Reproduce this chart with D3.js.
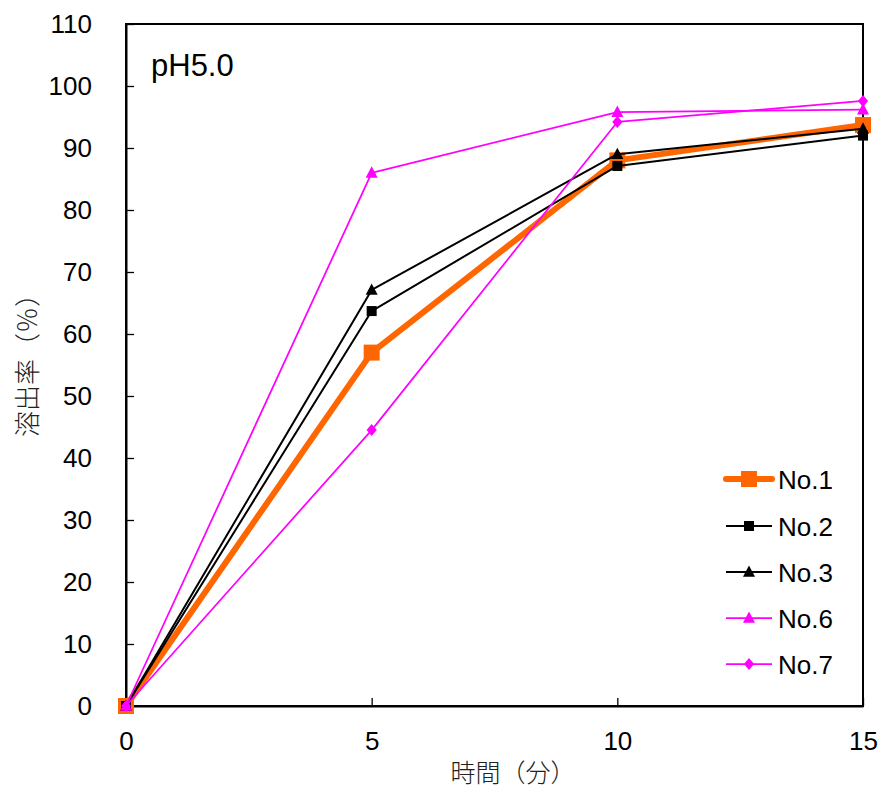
<!DOCTYPE html>
<html><head><meta charset="utf-8">
<script src="https://cdn.jsdelivr.net/npm/d3@7"></script>
<style>body{margin:0;background:#fff}</style>
</head><body>
<script>
const times = [0, 5, 10, 15];
const seriesNames = ["No.1", "No.2", "No.3", "No.6", "No.7"];
const no1 = [0, 57.0, 88.0, 93.7];
const no2 = [0, 63.7, 87.1, 92.0];
const no3 = [0, 67.1, 89.0, 93.1];
const no6 = [0, 86.0, 95.8, 96.2];
const no7 = [0, 44.5, 94.2, 97.6];
const xTicks = [0, 5, 10, 15];
const yTicks = [0,10,20,30,40,50,60,70,80,90,100,110];

const styles = [
  {color:"#FF6600", width:6, shape:"square", size:16},
  {color:"#000000", width:2, shape:"square", size:10},
  {color:"#000000", width:2, shape:"triangle", size:12},
  {color:"#FF00FF", width:1.75, shape:"triangle", size:12},
  {color:"#FF00FF", width:1.75, shape:"diamond", size:12}
];
const allValues = [no1, no2, no3, no6, no7];

const W = 882, H = 790;
const L = 126, R = 863, T = 24, B = 706;
const svg = d3.select("body").append("svg").attr("width", W).attr("height", H);
const x = d3.scaleLinear().domain([0, 15]).range([L, R]);
const y = d3.scaleLinear().domain([0, 110]).range([B, T]);
const font = "'Liberation Sans', Arial, sans-serif";
const cjk = "'Noto Sans CJK JP', sans-serif";

// frame
svg.append("rect").attr("x", L).attr("y", T).attr("width", R-L).attr("height", B-T)
  .attr("fill", "none").attr("stroke", "#000").attr("stroke-width", 2);

// axes
const yAxis = d3.axisLeft(y).tickValues(yTicks).tickSizeInner(-8).tickSizeOuter(0).tickPadding(34);
const gy = svg.append("g").attr("transform", `translate(${L},0)`).call(yAxis);
gy.select(".domain").attr("stroke-width", 2);
gy.selectAll("line").attr("stroke-width", 1.3);
gy.selectAll("text").attr("font-family", font).attr("font-size", 26).attr("fill", "#000");

const xAxis = d3.axisBottom(x).tickValues(xTicks).tickSizeInner(-8).tickSizeOuter(0).tickPadding(26);
const gx = svg.append("g").attr("transform", `translate(0,${B})`).call(xAxis);
gx.select(".domain").attr("stroke-width", 2);
gx.selectAll("line").attr("stroke-width", 1.3);
gx.selectAll("text").attr("font-family", font).attr("font-size", 26).attr("fill", "#000");

// titles
svg.append("text").attr("x", 513).attr("y", 782).attr("text-anchor", "middle")
  .attr("font-family", cjk).attr("font-weight", 300).attr("fill", "#222").attr("font-size", 25).text("時間（分）");
svg.append("text").attr("transform", "translate(37,359) rotate(-90)").attr("text-anchor", "middle")
  .attr("font-family", cjk).attr("font-weight", 300).attr("fill", "#222").attr("font-size", 26).text("溶出率（％）");
svg.append("text").attr("x", 151).attr("y", 76).attr("font-family", font).attr("font-size", 31).text("pH5.0");

function marker(g, shape, size, color, cx, cy) {
  const s = size;
  if (shape === "square") {
    g.append("rect").attr("x", cx - s/2).attr("y", cy - s/2).attr("width", s).attr("height", s).attr("fill", color);
  } else if (shape === "triangle") {
    const h = s * 0.9;
    g.append("path").attr("d", `M${cx},${cy - h*0.6}L${cx + s/2},${cy + h*0.45}L${cx - s/2},${cy + h*0.45}Z`).attr("fill", color);
  } else {
    g.append("path").attr("d", `M${cx},${cy - s/2}L${cx + s/2*0.85},${cy}L${cx},${cy + s/2}L${cx - s/2*0.85},${cy}Z`).attr("fill", color);
  }
}

const line = d3.line().x((d, i) => x(times[i])).y(d => y(d));
allValues.forEach((vals, k) => {
  const st = styles[k];
  const g = svg.append("g");
  g.append("path").attr("d", line(vals)).attr("fill", "none").attr("stroke", st.color)
    .attr("stroke-width", st.width).attr("stroke-linejoin", "round");
  vals.forEach((v, i) => marker(g, st.shape, st.size, st.color, x(times[i]), y(v)));
});

// legend
const legY = [479, 526, 572, 618, 664];
seriesNames.forEach((name, k) => {
  const st = styles[k];
  const g = svg.append("g");
  g.append("line").attr("x1", 726).attr("x2", 772).attr("y1", legY[k]).attr("y2", legY[k])
    .attr("stroke", st.color).attr("stroke-width", st.width).attr("stroke-linecap", k === 0 ? "round" : "butt");
  marker(g, st.shape, st.size, st.color, 749, legY[k]);
  g.append("text").attr("x", 778).attr("y", legY[k] + 9.5).attr("font-family", font).attr("font-size", 26).text(name);
});
</script>
</body></html>
